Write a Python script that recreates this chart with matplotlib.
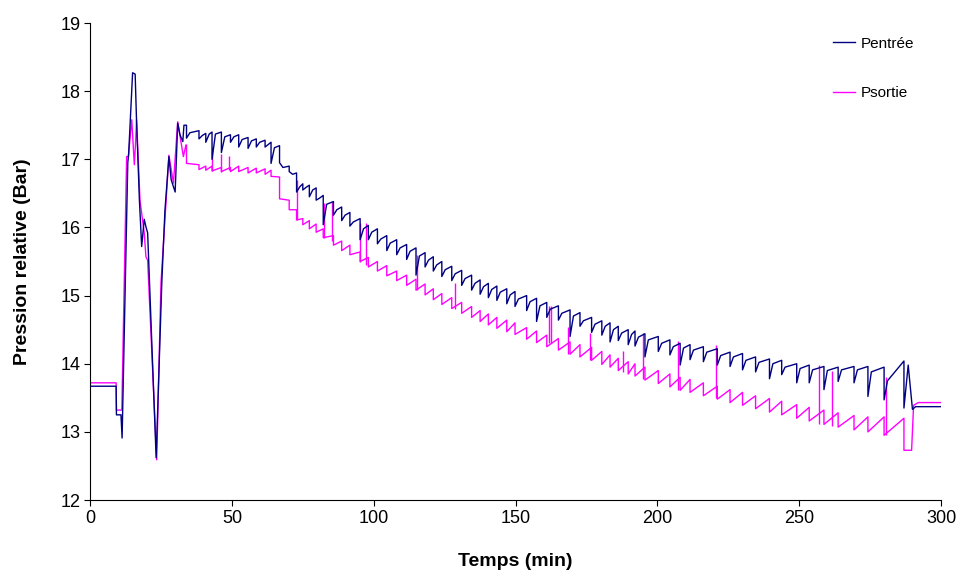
import matplotlib
matplotlib.use("Agg")
import matplotlib.pyplot as plt

plt.rcParams['font.family'] = ['Liberation Sans', 'DejaVu Sans']

# ---- data ----
# start-up phase (explicit vertices)
pe_t0 = [0, 9.2, 9.3, 10.9, 11.3, 13.3, 13.6, 15.0, 15.9, 16.4, 17.4, 18.2, 19.1, 19.7, 20.3,
         23.3, 25.3, 26.4, 27.8, 28.6, 30.0, 30.9, 31.7, 32.7, 33.1]
pe_y0 = [13.67, 13.67, 13.25, 13.25, 12.91, 16.95, 17.07, 18.27, 18.25, 17.55, 16.40, 15.72, 16.12,
         16.01, 15.92, 12.62, 15.20, 16.25, 17.04, 16.70, 16.52, 17.53, 17.36, 17.26, 17.50]
ps_t0 = [0, 9.2, 9.3, 11.2, 12.9, 13.5, 14.7, 15.6, 16.1, 16.4, 17.6, 19.1, 19.7, 20.3, 23.5,
         25.0, 27.8, 29.4, 30.9, 32.9, 33.8]
ps_y0 = [13.72, 13.72, 13.32, 13.32, 17.04, 17.04, 17.58, 16.92, 17.28, 17.58, 16.40, 15.92, 15.57,
         15.52, 12.59, 15.18, 17.06, 16.65, 17.55, 17.04, 17.21]

# sawtooth cycles: time of each drop, value before drop (top) and after drop (bottom)
cycle_t = [34.0, 38.4, 40.8, 43.0, 46.3, 49.5, 52.4, 55.7, 58.6, 61.7, 63.8, 66.8, 70.2, 72.8,
           75.0, 77.3, 79.7, 82.2, 85.8, 88.7, 91.6, 95.2, 98.1, 101.3, 104.6, 108.1, 111.6,
           114.9, 118.1, 121.0, 124.0, 127.5, 131.0, 134.5, 137.5, 140.4, 143.4, 146.9, 149.8,
           153.9, 157.4, 161.0, 165.1, 169.2, 172.7, 176.8, 180.4, 183.3, 186.2, 189.7, 192.1,
           195.6, 200.3, 204.4, 208.0, 211.5, 216.2, 221.1, 225.6, 230.0, 234.6, 239.5, 243.8,
           249.1, 253.5, 258.7, 263.7, 269.3, 274.2, 279.9, 286.9]
pe_top = [17.50, 17.42, 17.38, 17.40, 17.40, 17.36, 17.36, 17.32, 17.30, 17.28, 17.25, 17.20, 16.90, 16.80,
          16.64, 16.62, 16.58, 16.47, 16.38, 16.30, 16.22, 16.13, 16.03, 15.98, 15.88, 15.82, 15.75,
          15.70, 15.63, 15.57, 15.50, 15.43, 15.37, 15.30, 15.23, 15.18, 15.14, 15.10, 15.06,
          15.00, 14.96, 14.90, 14.85, 14.79, 14.75, 14.68, 14.63, 14.60, 14.55, 14.50, 14.48,
          14.44, 14.40, 14.35, 14.30, 14.28, 14.25, 14.22, 14.17, 14.15, 14.10, 14.07, 14.05,
          14.00, 13.98, 13.96, 13.95, 13.96, 13.96, 13.95, 14.04]
pe_bot = [17.31, 17.30, 17.25, 17.00, 17.10, 17.25, 17.18, 17.16, 17.18, 17.18, 16.94, 16.95, 16.82, 16.52,
          16.55, 16.45, 16.40, 16.04, 16.18, 16.10, 16.02, 15.82, 15.82, 15.76, 15.66, 15.60, 15.53,
          15.30, 15.42, 15.36, 15.28, 15.22, 15.15, 15.08, 15.02, 14.97, 14.93, 14.88, 14.84,
          14.78, 14.62, 14.68, 14.64, 14.40, 14.55, 14.46, 14.42, 14.32, 14.34, 14.28, 14.26,
          14.10, 14.18, 14.13, 13.98, 14.06, 14.03, 13.98, 13.96, 13.91, 13.88, 13.78, 13.84,
          13.72, 13.72, 13.62, 13.74, 13.72, 13.52, 13.47, 13.35]
# inlet pressure reached shortly after each drop (quick recovery knee)
pe_knee = [17.39, 17.35, 17.37, 17.37, 17.33, 17.33, 17.29, 17.27, 17.25, 17.22, 17.17, 16.88, 16.78,
           16.60, 16.59, 16.55, 16.43, 16.34, 16.26, 16.18, 16.08, 15.98, 15.93, 15.83, 15.77, 15.70,
           15.65, 15.58, 15.52, 15.45, 15.38, 15.32, 15.25, 15.18, 15.13, 15.09, 15.05, 15.01, 14.95,
           14.91, 14.85, 14.80, 14.74, 14.70, 14.63, 14.58, 14.55, 14.50, 14.45, 14.43, 14.39, 14.35,
           14.30, 14.25, 14.23, 14.20, 14.17, 14.12, 14.10, 14.05, 14.02, 14.00, 13.95, 13.93, 13.91,
           13.90, 13.91, 13.91, 13.88, 13.75]
ps_top = [17.21, 16.92, 16.90, 16.90, 16.88, 16.88, 16.90, 16.88, 16.87, 16.86, 16.84, 16.74, 16.40, 16.26,
          16.13, 16.10, 16.05, 15.98, 15.88, 15.80, 15.74, 15.64, 15.56, 15.50, 15.44, 15.36, 15.30,
          15.24, 15.17, 15.10, 15.03, 14.97, 14.90, 14.84, 14.78, 14.73, 14.68, 14.64, 14.60,
          14.53, 14.48, 14.42, 14.37, 14.32, 14.28, 14.24, 14.18, 14.13, 14.08, 14.03, 14.00,
          13.95, 13.90, 13.85, 13.80, 13.77, 13.72, 13.67, 13.62, 13.58, 13.53, 13.49, 13.45,
          13.40, 13.36, 13.32, 13.28, 13.24, 13.22, 13.22, 13.20]
ps_bot = [16.94, 16.85, 16.84, 16.83, 16.82, 16.82, 16.82, 16.80, 16.80, 16.78, 16.75, 16.42, 16.26, 16.11,
          16.04, 15.98, 15.93, 15.85, 15.74, 15.66, 15.60, 15.50, 15.42, 15.36, 15.29, 15.22, 15.15,
          15.08, 15.01, 14.94, 14.87, 14.81, 14.74, 14.68, 14.62, 14.57, 14.52, 14.47, 14.43,
          14.36, 14.31, 14.25, 14.20, 14.14, 14.10, 14.05, 13.99, 13.95, 13.90, 13.85, 13.82,
          13.76, 13.71, 13.66, 13.61, 13.58, 13.53, 13.48, 13.43, 13.39, 13.34, 13.29, 13.25,
          13.20, 13.16, 13.11, 13.07, 13.03, 13.00, 12.95, 12.73]

# shut-down phase (explicit vertices)
pe_t1 = [288.4, 289.9, 291.0, 300.0]
pe_y1 = [13.98, 13.33, 13.37, 13.37]
ps_t1 = [289.6, 290.3, 292.0, 300.0]
ps_y1 = [12.73, 13.39, 13.43, 13.43]

# short upward spikes of the outlet pressure
spike_t = [43.0, 46.3, 49.0, 73.1, 82.6, 85.2, 95.2, 97.4, 115.2, 128.7, 161.8, 162.5, 168.6,
           176.2, 188.0, 195.0, 207.4, 220.5, 257.1, 261.4, 280.5]
spike_lo = [16.83, 16.82, 16.85, 16.11, 15.85, 15.80, 15.50, 15.45, 15.08, 14.80, 14.30, 14.30, 14.15,
            14.06, 13.88, 13.78, 13.62, 13.50, 13.12, 13.09, 12.95]
spike_hi = [17.12, 17.08, 17.05, 16.70, 16.36, 16.38, 16.06, 16.06, 15.60, 15.18, 14.84, 14.84, 14.54,
            14.45, 14.18, 14.45, 14.34, 14.28, 13.98, 13.90, 13.80]

x_ticks = [0, 50, 100, 150, 200, 250, 300]
y_ticks = [12, 13, 14, 15, 16, 17, 18, 19]

# ---- build polylines ----
KNEE_DT = 1.2
pe_x, pe_y = list(pe_t0), list(pe_y0)
ps_x, ps_y = list(ps_t0), list(ps_y0)
for i, (t, a, b) in enumerate(zip(cycle_t, pe_top, pe_bot)):
    pe_x += [t, t]
    pe_y += [a, b]
    if i < len(pe_knee):
        pe_x.append(t + KNEE_DT)
        pe_y.append(pe_knee[i])
for t, a, b in zip(cycle_t, ps_top, ps_bot):
    ps_x += [t, t]
    ps_y += [a, b]
pe_x += pe_t1; pe_y += pe_y1
ps_x += ps_t1; ps_y += ps_y1

BLUE = '#000080'
MAG = '#FF00FF'

fig = plt.figure(figsize=(9.61, 5.71), dpi=100)
ax = fig.add_axes([0.0937, 0.1243, 0.8856, 0.8354])

ax.plot(ps_x, ps_y, color=MAG, lw=1.0, label='Psortie', zorder=2)
ax.vlines(spike_t, spike_lo, spike_hi, color=MAG, lw=1.0, zorder=2)
ax.plot(pe_x, pe_y, color=BLUE, lw=1.0, label='Pentrée', zorder=3)

ax.set_xlim(0, 300)
ax.set_ylim(12, 19)
ax.set_xticks(x_ticks)
ax.set_yticks(y_ticks)
ax.tick_params(direction='out', length=4, width=0.8, labelsize=13, colors='black', pad=3)
for s in ['top', 'right']:
    ax.spines[s].set_visible(False)
for s in ['left', 'bottom']:
    ax.spines[s].set_linewidth(0.8)

ax.set_xlabel('Temps (min)', fontsize=14, fontweight='bold', labelpad=19)
ax.set_ylabel('Pression relative (Bar)', fontsize=14, fontweight='bold', labelpad=21)

h, l = ax.get_legend_handles_labels()
leg = ax.legend([h[1], h[0]], [l[1], l[0]], loc='upper left', bbox_to_anchor=(0.873, 0.971),
                frameon=False, fontsize=11, borderpad=0, borderaxespad=0,
                labelspacing=2.3, handlelength=1.45, handletextpad=0.35)

fig.savefig('out.png', dpi=100, facecolor='white')
